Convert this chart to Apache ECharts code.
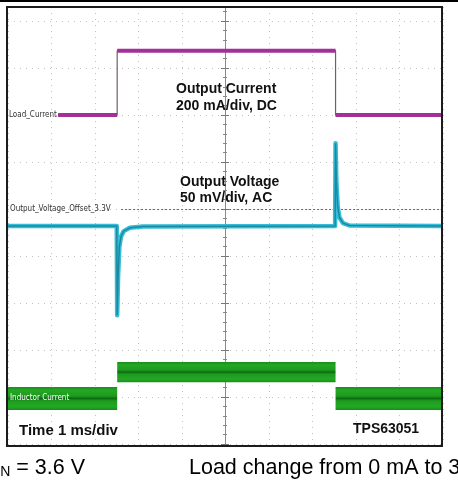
<!DOCTYPE html>
<html><head><meta charset="utf-8">
<script src="https://cdn.jsdelivr.net/npm/echarts@6/dist/echarts.min.js"></script>
<style>html,body{margin:0;padding:0;background:#fff}#c{width:458px;height:480px}</style>
</head><body><div id="c"></div>
<script>
// Horizontal: time in ms (1 ms/div). Vertical: screen divisions.
const timeRange = [0, 10];
const stepTimes = [2.51, 7.53];                 // load step on / off (ms)
const loadCurrentStart = 1.15;                  // trace drawn after its label
const loadCurrentLevels = [7.0, 8.37, 7.0];     // div
const inductorCenter = [0.97, 1.53, 0.97];      // div
const inductorRipple = [0.49, 0.43, 0.49];      // div peak-to-peak
const voltageOffsetLevel = 5.0;                 // div (offset marker 3.3 V)
const voltageMarkerStart = 2.6;                 // ms, marker dotted line start
const outputVoltage = [
  [0, 4.64], [2.50, 4.64], [2.51, 2.74], [2.53, 3.55], [2.56, 4.2], [2.60, 4.42],
  [2.66, 4.53], [2.80, 4.60], [3.10, 4.63], [7.52, 4.64], [7.53, 6.40], [7.55, 5.55],
  [7.58, 5.05], [7.62, 4.82], [7.70, 4.70], [7.85, 4.65], [10, 4.64]
];

const segStarts = [timeRange[0], stepTimes[0], stepTimes[1]];
const segEnds = [stepTimes[0], stepTimes[1], timeRange[1]];

const loadThick = [];
for (let i = 0; i < 3; i++) {
  const s = i === 0 ? loadCurrentStart : segStarts[i];
  loadThick.push([s, loadCurrentLevels[i]], [segEnds[i], loadCurrentLevels[i]], [segEnds[i], '-']);
}
const loadPath = [
  [loadCurrentStart, loadCurrentLevels[0]], [stepTimes[0], loadCurrentLevels[0]],
  [stepTimes[0], loadCurrentLevels[1]], [stepTimes[1], loadCurrentLevels[1]],
  [stepTimes[1], loadCurrentLevels[2]], [timeRange[1], loadCurrentLevels[2]]
];
const inductorBands = segStarts.map((s, i) => [s, segEnds[i], inductorCenter[i], inductorRipple[i]]);

const chart = echarts.init(document.getElementById('c'), null, {renderer: 'canvas'});
const gridLine = {show: true, lineStyle: {color: '#c2c2c2', width: 1, type: [1, 5]}};
const centerAxis = (inside) => ({
  type: 'value', min: 0, max: 9.3, interval: 1, position: 'left', offset: -217,
  axisLine: {show: true, lineStyle: {color: '#8a8a8a', width: 1}},
  axisTick: {show: true, inside: inside, length: 4, lineStyle: {color: '#777'}},
  minorTick: {show: true, splitNumber: 5, length: 2, lineStyle: {color: '#888'}},
  axisLabel: {show: false}, splitLine: {show: false}
});

chart.setOption({
  animation: false,
  backgroundColor: '#ffffff',
  grid: {left: 8, right: 15, top: 7, bottom: 36},
  xAxis: {type: 'value', min: timeRange[0], max: timeRange[1], interval: 1,
    axisLine: {show: false}, axisTick: {show: false}, axisLabel: {show: false}, splitLine: gridLine},
  yAxis: [
    {type: 'value', min: 0, max: 9.3, interval: 1,
      axisLine: {show: false}, axisTick: {show: false}, axisLabel: {show: false}, splitLine: gridLine},
    centerAxis(true), centerAxis(false)
  ],
  series: [
    {type: 'custom', name: 'Inductor Current', z: 3,
      encode: {x: [0, 1], y: [2]},
      renderItem: function (params, api) {
        const c = api.value(2), r = api.value(3);
        const p0 = api.coord([api.value(0), c + r / 2]);
        const p1 = api.coord([api.value(1), c - r / 2]);
        return {type: 'rect', shape: {x: p0[0], y: p0[1], width: p1[0] - p0[0], height: p1[1] - p0[1]},
          style: {fill: new echarts.graphic.LinearGradient(0, 0, 0, 1, [
            {offset: 0, color: '#178f1c'}, {offset: 0.15, color: '#24a824'},
            {offset: 0.4, color: '#1d9a1f'}, {offset: 0.5, color: '#0c6b10'},
            {offset: 0.6, color: '#1d9a1f'}, {offset: 0.85, color: '#24a824'},
            {offset: 1, color: '#178f1c'}])}};
      },
      data: inductorBands},
    {type: 'line', name: 'load path', data: loadPath, symbol: 'none', z: 3,
      lineStyle: {color: '#6f5f6f', width: 1.2}},
    {type: 'line', name: 'Load Current', data: loadThick, symbol: 'none', connectNulls: false, z: 4,
      lineStyle: {color: '#a3309a', width: 4, cap: 'butt'}},
    {type: 'line', name: 'Output Voltage', data: outputVoltage, symbol: 'none', z: 5,
      lineStyle: {color: '#35bcd8', width: 4.5, join: 'round'},
      markLine: {silent: true, symbol: 'none', label: {show: false},
        lineStyle: {color: '#666', width: 1, type: [2, 2]},
        data: [[{coord: [voltageMarkerStart, voltageOffsetLevel]}, {coord: [timeRange[1], voltageOffsetLevel]}]]}},
    {type: 'line', name: 'Output Voltage core', data: outputVoltage, symbol: 'none', z: 6,
      lineStyle: {color: '#1a8aa0', width: 1.5}}
  ],
  graphic: [
    {type: 'rect', z: 100, shape: {x: 0, y: 0, width: 458, height: 2}, style: {fill: '#000'}},
    {type: 'rect', z: 100, shape: {x: 7, y: 7, width: 435, height: 439}, style: {fill: 'none', stroke: '#1c1c1c', lineWidth: 2}},
    {type: 'text', z: 100, x: 9, y: 115, style: {text: 'Load_Current', font: '8px "DejaVu Sans Condensed"', fill: '#333', verticalAlign: 'middle'}},
    {type: 'text', z: 100, x: 10, y: 209, style: {text: 'Output_Voltage_Offset_3.3V', font: '8px "DejaVu Sans Condensed"', fill: '#333', verticalAlign: 'middle'}},
    {type: 'text', z: 100, x: 10, y: 398, style: {text: 'Inductor Current', font: '8px "DejaVu Sans Condensed"', fill: '#fff', verticalAlign: 'middle'}},
    {type: 'text', z: 100, x: 176, y: 89, style: {text: 'Output Current', font: 'bold 14px "Liberation Sans"', fill: '#111', verticalAlign: 'middle'}},
    {type: 'text', z: 100, x: 176, y: 106, style: {text: '200 mA/div, DC', font: 'bold 14px "Liberation Sans"', fill: '#111', verticalAlign: 'middle'}},
    {type: 'text', z: 100, x: 180, y: 182, style: {text: 'Output Voltage', font: 'bold 14px "Liberation Sans"', fill: '#111', verticalAlign: 'middle'}},
    {type: 'text', z: 100, x: 180, y: 198, style: {text: '50 mV/div, AC', font: 'bold 14px "Liberation Sans"', fill: '#111', verticalAlign: 'middle'}},
    {type: 'text', z: 100, x: 19, y: 431, style: {text: 'Time 1 ms/div', font: 'bold 15px "Liberation Sans"', fill: '#111', verticalAlign: 'middle'}},
    {type: 'text', z: 100, x: 353, y: 429, style: {text: 'TPS63051', font: 'bold 14px "Liberation Sans"', fill: '#111', verticalAlign: 'middle'}},
    {type: 'text', z: 100, x: -18, y: 468, style: {text: '{v|V}{s|IN}{v| = 3.6 V}', verticalAlign: 'middle',
      rich: {v: {font: '21.5px "Liberation Sans"', fill: '#000'}, s: {font: '14px "Liberation Sans"', fill: '#000', verticalAlign: 'bottom'}}}},
    {type: 'text', z: 100, x: 189, y: 468, style: {text: 'Load change from 0 mA to 300 mA', font: '21.5px "Liberation Sans"', fill: '#000', verticalAlign: 'middle'}}
  ]
});
</script></body></html>
